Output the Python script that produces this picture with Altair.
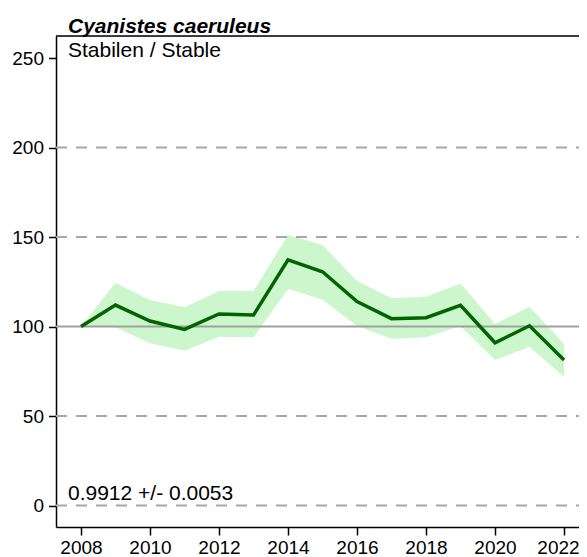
import altair as alt
import pandas as pd

years = list(range(2008, 2023))
index_vals = [100, 112.0, 103.1, 98.4, 107.0, 106.4, 137.2, 130.6, 113.9, 104.4, 104.9, 111.8, 90.9, 100.4, 81.3]
upper_vals = [100, 124.5, 114.8, 110.7, 119.8, 119.8, 151.1, 145.5, 125.4, 115.8, 116.6, 124.1, 101.4, 111.1, 90.2]
lower_vals = [100, 99.6, 90.6, 86.5, 94.3, 94.0, 121.0, 115.1, 100.3, 93.2, 94.0, 100.3, 81.3, 88.7, 72.0]
dashed_levels = [0, 50, 150, 200]
baseline_level = [100]
y_ticks = [0, 50, 100, 150, 200, 250]
title_text = "Cyanistes caeruleus"
subtitle_text = "Stabilen / Stable"
trend_text = "0.9912 +/- 0.0053"

W, H = 523, 491
FONT = "Liberation Sans"

df = pd.DataFrame({"year": years, "idx": index_vals, "lo": lower_vals, "hi": upper_vals})

xscale = alt.Scale(domain=[2007.275, 2007.275 + W / 34.5], nice=False, zero=False)
yscale = alt.Scale(domain=[-12, 262.3], nice=False, zero=False)

xaxis = alt.Axis(
    values=years, labelExpr="datum.value % 2 == 0 ? datum.value : ''", format="d",
    title=None, grid=False, domainColor="black", domainWidth=1.5, tickColor="black",
    tickWidth=1.5, tickSize=8, labelFontSize=19, labelFont=FONT, labelColor="black",
    labelPadding=3, labelFlush=False, labelOverlap=False,
    labelOffset={"condition": {"test": "datum.value == 2022", "value": -6}, "value": 0},
)
yaxis = alt.Axis(
    values=y_ticks, title=None, grid=False, domainColor="black", domainWidth=1.5,
    tickColor="black", tickWidth=1.5, tickSize=7.5, labelFontSize=19, labelFont=FONT,
    labelColor="black", labelPadding=5,
)

base = alt.Chart(df)

band = base.mark_area(color="#7fe87f", opacity=0.4).encode(
    x=alt.X("year:Q", scale=xscale, axis=xaxis),
    y=alt.Y("lo:Q", scale=yscale, axis=yaxis),
    y2="hi:Q",
)

dashed = alt.Chart(pd.DataFrame({"v": dashed_levels})).mark_rule(
    color="#a8a8a8", strokeWidth=2, strokeDash=[11, 9]
).encode(y=alt.Y("v:Q", scale=yscale), x=alt.value(0), x2=alt.value(W))

solid = alt.Chart(pd.DataFrame({"v": baseline_level})).mark_rule(
    color="#a0a0a0", strokeWidth=2
).encode(y=alt.Y("v:Q", scale=yscale), x=alt.value(0), x2=alt.value(W))

line = base.mark_line(color="#006400", strokeWidth=3.5).encode(
    x=alt.X("year:Q", scale=xscale), y=alt.Y("idx:Q", scale=yscale)
)

top_border = alt.Chart(pd.DataFrame({"a": [0]})).mark_rule(color="black", strokeWidth=1.5).encode(
    y=alt.value(0), x=alt.value(0), x2=alt.value(W)
)

title = alt.Chart(pd.DataFrame({"t": [title_text]})).mark_text(
    align="left", baseline="alphabetic", fontSize=21, fontWeight="bold", fontStyle="italic",
    font=FONT, color="black"
).encode(text="t:N", x=alt.value(12), y=alt.value(-3.5))

subtitle = alt.Chart(pd.DataFrame({"t": [subtitle_text]})).mark_text(
    align="left", baseline="alphabetic", fontSize=21, font=FONT, color="black"
).encode(text="t:N", x=alt.value(12), y=alt.value(20.5))

trend = alt.Chart(pd.DataFrame({"t": [trend_text]})).mark_text(
    align="left", baseline="alphabetic", fontSize=21, font=FONT, color="black"
).encode(text="t:N", x=alt.value(12), y=alt.value(464))

chart = alt.layer(band, dashed, solid, line, top_border, title, subtitle, trend).properties(
    width=W, height=H,
    autosize=alt.AutoSizeParams(type="none"),
    padding={"left": 48, "top": 28, "right": 0, "bottom": 30},
).configure_view(stroke=None).configure(background="white")

chart.save("out.html", embed_options={"renderer": "svg", "actions": False})
